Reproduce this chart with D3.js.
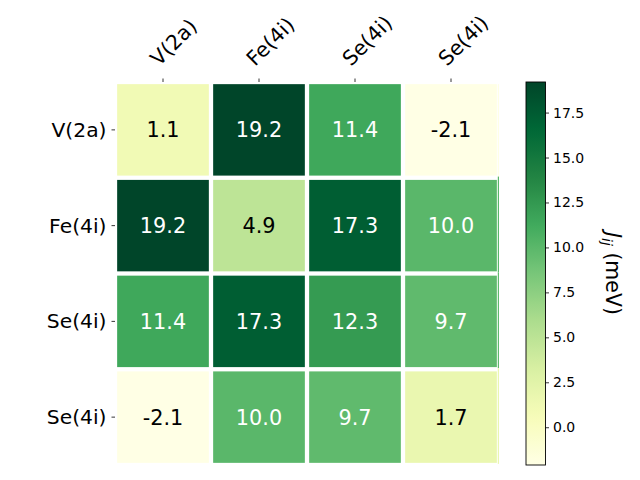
<!DOCTYPE html>
<html>
<head>
<meta charset="utf-8">
<script src="https://cdn.jsdelivr.net/npm/d3@7"></script>
<style>
  body { margin: 0; background: #fff; }
  text { font-family: "DejaVu Sans", sans-serif; }
</style>
</head>
<body>
<svg id="chart" width="640" height="480"></svg>
<script>
const rowLabels = ["V(2a)", "Fe(4i)", "Se(4i)", "Se(4i)"];
const colLabels = ["V(2a)", "Fe(4i)", "Se(4i)", "Se(4i)"];
const values = [
  [1.1, 19.2, 11.4, -2.1],
  [19.2, 4.9, 17.3, 10.0],
  [11.4, 17.3, 12.3, 9.7],
  [-2.1, 10.0, 9.7, 1.7]
];
const cbTicks = [0.0, 2.5, 5.0, 7.5, 10.0, 12.5, 15.0, 17.5];
const ylgn = ["#ffffe5","#f7fcb9","#d9f0a3","#addd8e","#78c679","#41ab5d","#238443","#006837","#004529"];

const svg = d3.select("#chart");
const flat = values.flat();
const vmin = d3.min(flat), vmax = d3.max(flat);

const color = d3.scaleLinear()
  .domain(ylgn.map((_, i) => vmin + (vmax - vmin) * i / (ylgn.length - 1)))
  .range(ylgn)
  .interpolate(d3.interpolateRgb)
  .clamp(true);

const L = 115, R = 499, T = 82, B = 465;
const x = d3.scaleBand().domain(d3.range(colLabels.length)).range([L, R]);
const y = d3.scaleBand().domain(d3.range(rowLabels.length)).range([T, B]);
const gap = 2.15;

const cells = [];
values.forEach((row, i) => row.forEach((v, j) => cells.push({i, j, v})));

const g = svg.append("g");
// thin sliver at right edge (clipped border effect)
g.selectAll("rect.sliver").data(cells.filter(d => d.j === colLabels.length - 1))
  .enter().append("rect")
  .attr("x", R - 1.2).attr("width", 1.2)
  .attr("y", d => y(d.i) + (d.i === 0 ? gap : -gap + 1))
  .attr("height", d => y.bandwidth() - (d.i === 0 ? gap : 0))
  .attr("fill", d => color(d.v));

g.selectAll("rect.cell").data(cells).enter().append("rect")
  .attr("x", d => x(d.j) + gap)
  .attr("y", d => y(d.i) + gap)
  .attr("width", x.bandwidth() - 2 * gap)
  .attr("height", y.bandwidth() - 2 * gap)
  .attr("fill", d => color(d.v));

const mid = (vmin + vmax) / 2;
g.selectAll("text.val").data(cells).enter().append("text")
  .attr("x", d => x(d.j) + x.bandwidth() / 2)
  .attr("y", d => y(d.i) + y.bandwidth() / 2)
  .attr("dy", "0.36em")
  .attr("text-anchor", "middle")
  .attr("font-size", 20.8)
  .attr("fill", d => d.v > mid ? "#ffffff" : "#000000")
  .text(d => d.v.toFixed(1));

// left axis
const yAxis = d3.axisLeft(y).tickSize(3.5).tickPadding(5).tickFormat(i => rowLabels[i]);
const ya = svg.append("g").attr("transform", `translate(${L},0)`).call(yAxis);
ya.select(".domain").remove();
ya.selectAll("line").attr("stroke", "#000").attr("stroke-width", 0.8);
ya.selectAll("text").attr("font-size", 20.3).attr("font-family", "DejaVu Sans").attr("fill", "#000").attr("dy", "0.35em");

// top axis
const xAxis = d3.axisTop(x).tickSize(3.5).tickFormat(i => colLabels[i]);
const xa = svg.append("g").attr("transform", `translate(0,${T})`).call(xAxis);
xa.select(".domain").remove();
xa.selectAll("line").attr("stroke", "#000").attr("stroke-width", 0.8);
xa.selectAll("text")
  .attr("font-size", 20.5).attr("font-family", "DejaVu Sans").attr("fill", "#000")
  .attr("text-anchor", "start")
  .attr("x", null).attr("y", null).attr("dy", null)
  .attr("transform", "translate(-4,-15) rotate(-45)");

// colorbar
const cbL = 526, cbW = 19.5;
const cy = d3.scaleLinear().domain([vmin, vmax]).range([B, T]);
const defs = svg.append("defs");
const grad = defs.append("linearGradient").attr("id", "cbgrad")
  .attr("x1", "0").attr("y1", "1").attr("x2", "0").attr("y2", "0");
d3.range(0, 1.0001, 0.02).forEach(t => {
  grad.append("stop").attr("offset", t).attr("stop-color", color(vmin + t * (vmax - vmin)));
});
svg.append("rect").attr("x", cbL).attr("y", T).attr("width", cbW).attr("height", B - T)
  .attr("fill", "url(#cbgrad)").attr("stroke", "#000").attr("stroke-width", 0.9);

const cbAxis = d3.axisRight(cy).tickValues(cbTicks).tickSize(3.5).tickPadding(4).tickFormat(d3.format(".1f"));
const ca = svg.append("g").attr("transform", `translate(${cbL + cbW},0)`).call(cbAxis);
ca.select(".domain").remove();
ca.selectAll("line").attr("stroke", "#000").attr("stroke-width", 0.8);
ca.selectAll("text").attr("font-size", 14).attr("font-family", "DejaVu Sans").attr("fill", "#000");

const lab = svg.append("text")
  .attr("transform", `translate(606,${(T + B) / 2}) rotate(90)`)
  .attr("text-anchor", "middle")
  .attr("font-size", 20.5);
lab.append("tspan").attr("font-style", "italic").text("J");
lab.append("tspan").attr("font-style", "italic").attr("font-size", 14).attr("dy", 4).text("ij");
lab.append("tspan").attr("dy", -4).text(" (meV)");
</script>
</body>
</html>
